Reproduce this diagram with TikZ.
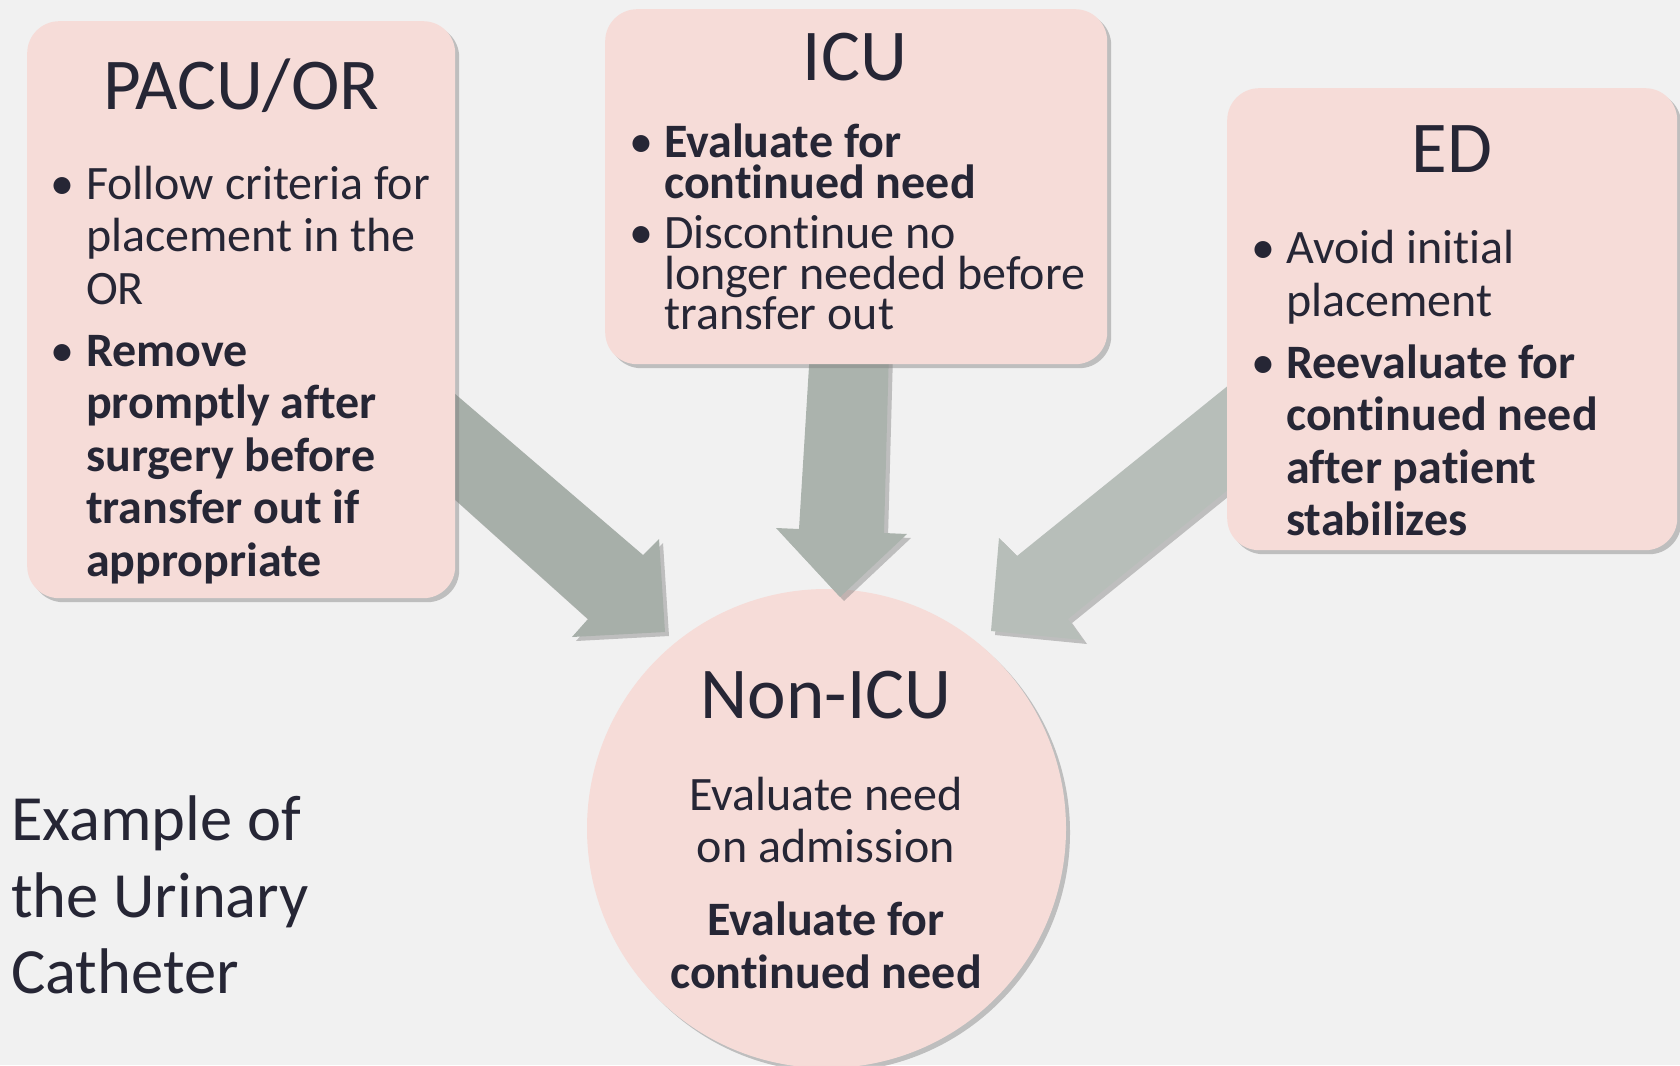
\documentclass[tikz,border=0pt]{standalone}
\usepackage{fontspec}
\setmainfont{Carlito}[Ligatures=NoCommon]
\usetikzlibrary{shadows}
\definecolor{bg}{HTML}{F1F1F1}
\definecolor{pinkbox}{HTML}{F6DCD8}
\definecolor{ink}{HTML}{262635}
\definecolor{arrL}{HTML}{A7AFA9}
\definecolor{arrM}{HTML}{ABB3AD}
\definecolor{arrR}{HTML}{B7BEB9}
\begin{document}
\begin{tikzpicture}[x=1pt,y=-1pt,
  shadowed/.style={drop shadow={shadow xshift=4pt,shadow yshift=-4pt,opacity=0.45}},
  box/.style={fill=pinkbox, rounded corners=32pt, shadowed, anchor=north west, inner sep=0},
  blockarrow/.style={shadowed},
  title/.style={anchor=base, inner sep=0, text=ink, font=\fontsize{73}{86}\selectfont},
  body/.style={anchor=base west, inner sep=0, text=ink, font=\fontsize{48}{52}\selectfont},
  bodyb/.style={body, font=\fontsize{48}{52}\selectfont\bfseries},
  cbody/.style={anchor=base, inner sep=0, text=ink, font=\fontsize{48}{52}\selectfont},
  cbodyb/.style={cbody, font=\fontsize{48}{52}\selectfont\bfseries},
  bul/.style={anchor=base, inner sep=0, text=ink, font=\fontsize{48}{52}\selectfont},
  side/.style={anchor=base west, inner sep=0, text=ink, font=\fontsize{64.5}{77}\selectfont}]
\useasboundingbox (0,0) rectangle (1680,1065);
\fill[bg] (0,0) rectangle (1680,1065);

% central circle
\node[circle, fill=pinkbox, minimum size=479pt, inner sep=0, shadowed] (nonicu) at (826.5,828.5) {};

% block arrows
\path[fill=arrL, blockarrow] (440,381) -- (643,555) -- (659,539) -- (665,632) -- (572,637) -- (588,619) -- (440,486) -- cycle;
\path[fill=arrM, blockarrow] (810,350) -- (889,350) -- (884,533) -- (907,534) -- (840,597) -- (776,528) -- (799,529) -- cycle;
\path[fill=arrR, blockarrow] (1240,376) -- (1017,556) -- (999,538) -- (991,631) -- (1083,640) -- (1068,619) -- (1240,480) -- cycle;

% boxes
\node[box, minimum width=428pt, minimum height=577pt] (pacu) at (27,21) {};
\node[box, minimum width=502pt, minimum height=355pt] (icu) at (605,9) {};
\node[box, minimum width=450pt, minimum height=462pt] (ed) at (1227,88) {};

% PACU/OR text
\node[title] (pacuT) at (241,109) {PACU/OR};
\node[bul] (pacuB1) at (62,199) {•};
\foreach \t [count=\i from 0] in {Follow criteria for, placement in the, OR}
  \node[body] (pacuA\i) at (86,{199+52.5*\i}) {\t};
\node[bul] (pacuB2) at (62,366) {•};
\foreach \t [count=\i from 0] in {Remove, promptly after, surgery before, transfer out if, appropriate}
  \node[bodyb] (pacuC\i) at (86,{366+52.5*\i}) {\t};

% ICU text
\node[title] (icuT) at (855,80) {ICU};
\node[bul] (icuB1) at (641,157.5) {•};
\foreach \t [count=\i from 0] in {Evaluate for, continued need}
  \node[bodyb] (icuA\i) at (664,{157.5+40.7*\i}) {\t};
\node[bul] (icuB2) at (641,248.5) {•};
\foreach \t [count=\i from 0] in {Discontinue no, longer needed before, transfer out}
  \node[body] (icuC\i) at (664,{248.5+40.7*\i}) {\t};

% ED text
\node[title] (edT) at (1452,172) {ED};
\node[bul] (edB1) at (1263,263.5) {•};
\foreach \t [count=\i from 0] in {Avoid initial, placement}
  \node[body] (edA\i) at (1286,{263.5+53*\i}) {\t};
\node[bul] (edB2) at (1263,378) {•};
\foreach \t [count=\i from 0] in {Reevaluate for, continued need, after patient, stabilizes}
  \node[bodyb] (edC\i) at (1286,{378+52.5*\i}) {\t};

% Non-ICU text
\node[title] (nonT) at (826,718) {Non-ICU};
\node[cbody] (nonA) at (826,810) {Evaluate need};
\node[cbody] (nonB) at (826,862.5) {on admission};
\node[cbodyb] (nonC) at (826,935) {Evaluate for};
\node[cbodyb] (nonD) at (826,988) {continued need};

% side caption
\node[side] (ex1) at (11,840) {Example of};
\node[side] (ex2) at (11,917) {the Urinary};
\node[side] (ex3) at (11,993) {Catheter};
\end{tikzpicture}
\end{document}
